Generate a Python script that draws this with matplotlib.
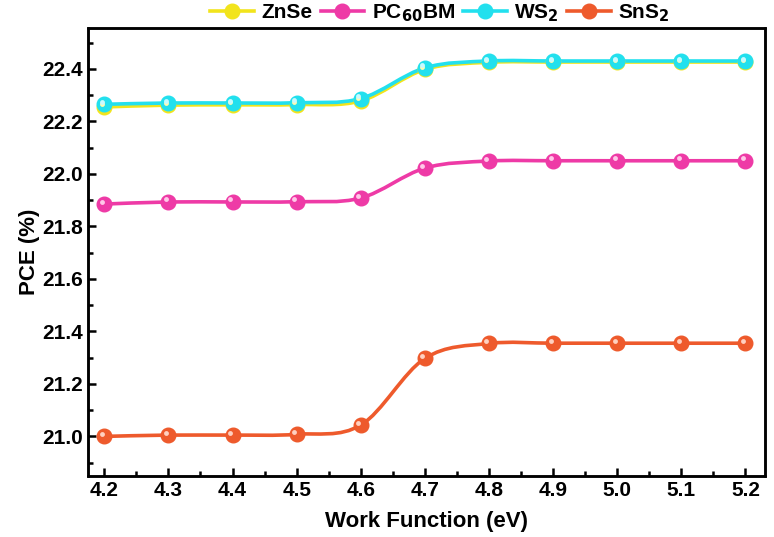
import numpy as np
import matplotlib.pyplot as plt
from matplotlib.path import Path
from matplotlib.patches import PathPatch, Rectangle
from matplotlib.lines import Line2D
import matplotlib.transforms as mtransforms

plt.rcParams['font.family'] = ['Liberation Sans', 'DejaVu Sans']
plt.rcParams['font.weight'] = 'bold'
plt.rcParams['mathtext.default'] = 'bf'

work_function = [4.2, 4.3, 4.4, 4.5, 4.6, 4.7, 4.8, 4.9, 5.0, 5.1, 5.2]
pce_znse = [22.255, 22.262, 22.263, 22.264, 22.278, 22.398, 22.425, 22.426, 22.426, 22.426, 22.426]
pce_pcbm = [21.885, 21.893, 21.893, 21.894, 21.908, 22.022, 22.049, 22.050, 22.050, 22.050, 22.050]
pce_ws2 = [22.265, 22.270, 22.270, 22.271, 22.287, 22.404, 22.430, 22.430, 22.430, 22.430, 22.430]
pce_sns2 = [21.000, 21.005, 21.005, 21.008, 21.043, 21.297, 21.354, 21.355, 21.355, 21.355, 21.355]

labels = ['ZnSe', r'PC$_{60}$BM', r'WS$_{2}$', r'SnS$_{2}$']
colors = ['#F2E41C', '#EE3AA6', '#22E0EE', '#EE5A2C']
highlights = ['#FFFBB0', '#FFC8E8', '#C8FAFF', '#FFD0C0']


def smooth_path(x, y):
    # catmull-rom converted to cubic bezier segments
    pts = np.column_stack([np.asarray(x), np.asarray(y)])
    verts = [pts[0]]
    codes = [Path.MOVETO]
    n = len(pts)
    for i in range(n - 1):
        p0 = pts[max(i - 1, 0)]
        p1 = pts[i]
        p2 = pts[i + 1]
        p3 = pts[min(i + 2, n - 1)]
        c1 = p1 + (p2 - p0) / 6.0
        c2 = p2 - (p3 - p1) / 6.0
        verts += [c1, c2, p2]
        codes += [Path.CURVE4] * 3
    return Path(verts, codes)


fig, ax = plt.subplots(figsize=(7.74, 5.37), dpi=100)
fig.subplots_adjust(left=0.114, right=0.988, top=0.948, bottom=0.114)

series = [pce_znse, pce_pcbm, pce_ws2, pce_sns2]
off = mtransforms.offset_copy(ax.transData, fig=fig, x=-1.8, y=1.8, units='points')
handles = []
for vals, c, h, lab in zip(series, colors, highlights, labels):
    patch = PathPatch(smooth_path(work_function, vals), facecolor='none',
                      edgecolor=c, lw=2.6, zorder=2)
    ax.add_patch(patch)
    ax.plot(work_function, vals, 'o', color=c, ms=10.5, mec=c, zorder=3)
    ax.plot(work_function, vals, 'o', color=h, ms=3.5, mec='none',
            transform=off, zorder=4)
    handles.append(Line2D([0], [0], color=c, lw=2.6, marker='o', ms=10.5,
                          mfc=c, mec=c, label=lab))

ax.set_xlim(4.175, 5.23)
ax.set_ylim(20.85, 22.556)
ax.set_xticks(np.arange(4.2, 5.21, 0.1))
ax.set_xticks(np.arange(4.25, 5.2, 0.1), minor=True)
ax.set_yticks(np.arange(21.0, 22.41, 0.2))
ax.set_yticks(np.arange(20.9, 22.56, 0.2), minor=True)
ax.set_xticklabels([f'{v:.1f}' for v in work_function])
ax.tick_params(which='both', direction='in', labelsize=15, width=1.8)
ax.tick_params(which='major', length=6)
ax.tick_params(which='minor', length=3.5)
for s in ax.spines.values():
    s.set_linewidth(1.8)
    s.set_visible(True)
    s.set_color('black')
# explicit frame so the top and right edges always show
ax.add_patch(Rectangle((0, 0), 1, 1, transform=ax.transAxes, fill=False,
                       edgecolor='black', lw=1.8, clip_on=False, zorder=5))

ax.set_xlabel('Work Function (eV)', fontsize=16, fontweight='bold', labelpad=8)
ax.set_ylabel('PCE (%)', fontsize=16, fontweight='bold', labelpad=2)

ax.legend(handles=handles, loc='lower center', bbox_to_anchor=(0.52, 0.99),
          ncol=4, frameon=False, fontsize=15, handlelength=2.1,
          columnspacing=0.4, handletextpad=0.35, borderaxespad=0)

fig.savefig('out.png', dpi=100)
